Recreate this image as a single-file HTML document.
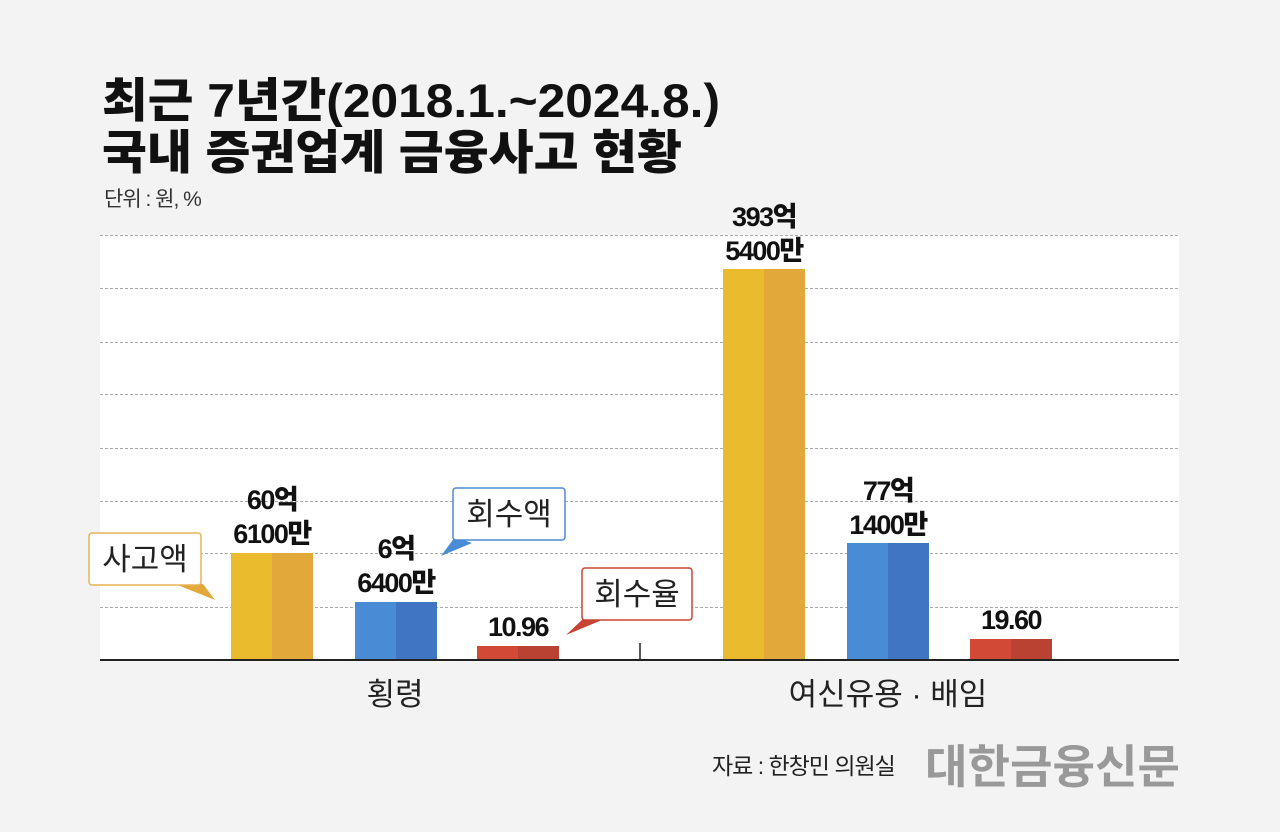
<!DOCTYPE html>
<html><head><meta charset="utf-8"><style>
body{margin:0;background:#f3f3f3;}
svg text{font-family:"Liberation Sans","Noto Sans CJK KR",sans-serif;}
</style></head><body>
<svg width="1280" height="827" viewBox="0 0 1280 827" xmlns="http://www.w3.org/2000/svg">
<rect width="1280" height="827" fill="#f3f3f3"/>
<text x="102" y="117" font-size="47" font-weight="900" fill="#111" textLength="618" lengthAdjust="spacingAndGlyphs">최근 7년간(2018.1.~2024.8.)</text>
<text x="102" y="169" font-size="47" font-weight="900" fill="#111" textLength="580" lengthAdjust="spacingAndGlyphs">국내 증권업계 금융사고 현황</text>
<text x="104" y="206" font-size="21" fill="#333" letter-spacing="-1">단위 : 원, %</text>
<rect x="100" y="235" width="1079" height="425" fill="#fff"/>
<g stroke="#aaa" stroke-width="1" stroke-dasharray="3,2">
<line x1="100" x2="1179" y1="235.5" y2="235.5"/><line x1="100" x2="1179" y1="288.5" y2="288.5"/>
<line x1="100" x2="1179" y1="342.5" y2="342.5"/><line x1="100" x2="1179" y1="394.5" y2="394.5"/>
<line x1="100" x2="1179" y1="448.5" y2="448.5"/><line x1="100" x2="1179" y1="501.5" y2="501.5"/>
<line x1="100" x2="1179" y1="553.5" y2="553.5"/><line x1="100" x2="1179" y1="607.5" y2="607.5"/>
</g>
<rect x="231" y="553" width="41" height="107" fill="#eabb2c"/><rect x="272" y="553" width="41" height="107" fill="#e3a83a"/>
<rect x="355" y="602" width="41" height="58" fill="#4a8bd6"/><rect x="396" y="602" width="41" height="58" fill="#3f75c3"/>
<rect x="477" y="646" width="41" height="14" fill="#d24a36"/><rect x="518" y="646" width="41" height="14" fill="#b94232"/>
<rect x="723" y="269" width="41" height="391" fill="#eabb2c"/><rect x="764" y="269" width="41" height="391" fill="#e3a83a"/>
<rect x="847" y="543" width="41" height="117" fill="#4a8bd6"/><rect x="888" y="543" width="41" height="117" fill="#3f75c3"/>
<rect x="970" y="639" width="41" height="21" fill="#d24a36"/><rect x="1011" y="639" width="41" height="21" fill="#b94232"/>
<line x1="100" x2="1179" y1="660" y2="660" stroke="#222" stroke-width="2"/>
<line x1="640" x2="640" y1="643" y2="660" stroke="#222" stroke-width="1.5"/>
<g font-size="27" font-weight="900" fill="#111" text-anchor="middle" letter-spacing="-1.5">
<text x="272" y="509">60억</text><text x="272" y="543">6100만</text>
<text x="396" y="558">6억</text><text x="396" y="592">6400만</text>
<text x="518" y="636">10.96</text>
<text x="764" y="226">393억</text><text x="764" y="260">5400만</text>
<text x="888" y="500">77억</text><text x="888" y="534">1400만</text>
<text x="1011" y="629">19.60</text>
</g>
<polygon points="175,584 203,584 215,600" fill="#e3a83a"/>
<rect x="89" y="533" width="112" height="52" rx="3" fill="#fff" stroke="#e8b357" stroke-width="1.5"/>
<text x="145" y="570" font-size="31" text-anchor="middle" fill="#222">사고액</text>
<polygon points="455,537 472,543 441,556" fill="#4a8bd6"/>
<rect x="453" y="488" width="112" height="52" rx="3" fill="#fff" stroke="#4a8bd6" stroke-width="1.5"/>
<text x="509" y="525" font-size="31" text-anchor="middle" fill="#222">회수액</text>
<polygon points="584,618 602,620 566,635" fill="#c94334"/>
<rect x="582" y="568" width="110" height="52" rx="3" fill="#fff" stroke="#c94334" stroke-width="1.5"/>
<text x="637" y="605" font-size="31" text-anchor="middle" fill="#222">회수율</text>
<text x="395" y="705" font-size="31" text-anchor="middle" fill="#222">횡령</text>
<text x="888" y="705" font-size="31" text-anchor="middle" fill="#222">여신유용 · 배임</text>
<text x="712" y="774" font-size="23" fill="#222" letter-spacing="-1">자료 : 한창민 의원실</text>
<text x="925" y="783" font-size="46" font-weight="bold" fill="#999" textLength="255" lengthAdjust="spacingAndGlyphs">대한금융신문</text>
</svg>
</body></html>
